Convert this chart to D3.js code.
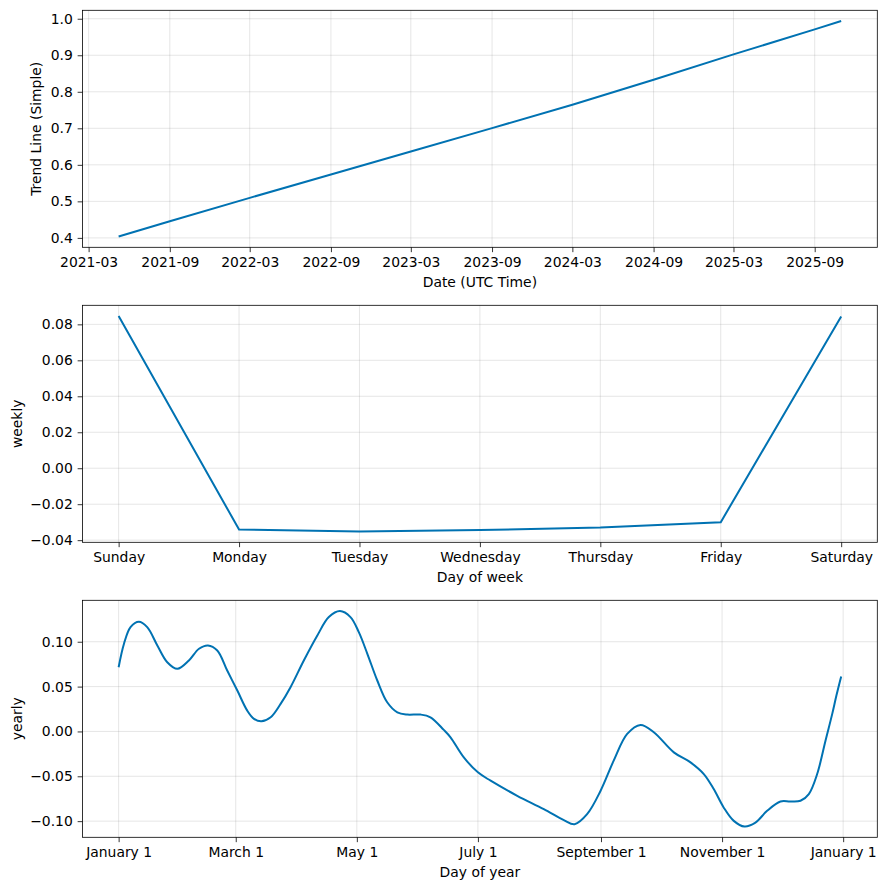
<!DOCTYPE html>
<html lang="en">

<head>
    <meta charset="UTF-8">
    <title>Forecast components</title>
    <style>
        body {
            margin: 0;
            background: #fff;
        }

        svg text {
            font-family: "DejaVu Sans", sans-serif;
            fill: #000;
        }

        .grid line {
            stroke: #808080;
            stroke-opacity: 0.2;
            stroke-width: 1;
        }

        .frame {
            fill: none;
            stroke: #000;
            stroke-width: 0.8;
        }

        .axis path {
            display: none;
        }

        .axis line {
            stroke: #000;
            stroke-width: 0.8;
        }

        .series {
            fill: none;
            stroke: #0072B2;
            stroke-width: 2;
        }
    </style>
</head>

<body>
    <svg class="chart"></svg>
    <script src="https://d3js.org/d3.v7.min.js"></script>
    <script>
        // trend component
        let trendDates = ["2021-05-08", "2021-09-01", "2022-03-01", "2022-09-01", "2023-03-01", "2023-09-01",
            "2024-03-01", "2024-09-01", "2025-03-01", "2025-09-01", "2025-10-31"];
        let trendValues = [0.4037, 0.4457, 0.5096, 0.5735, 0.6365, 0.7005, 0.7644, 0.8329, 0.9023, 0.9708, 0.9936];
        let trendTicks = ["2021-03-01", "2021-09-01", "2022-03-01", "2022-09-01", "2023-03-01", "2023-09-01",
            "2024-03-01", "2024-09-01", "2025-03-01", "2025-09-01"];
        let trendYTicks = [0.4, 0.5, 0.6, 0.7, 0.8, 0.9, 1.0];

        // weekly component
        let weekDays = ["Sunday", "Monday", "Tuesday", "Wednesday", "Thursday", "Friday", "Saturday"];
        let weeklyValues = [0.0846, -0.0341, -0.0352, -0.0344, -0.0330, -0.0300, 0.0844];
        let weeklyYTicks = [-0.04, -0.02, 0.00, 0.02, 0.04, 0.06, 0.08];

        // yearly component (day of year, 2017)
        let yearlyDays = [0, 2.7, 6, 10.2, 14.4, 19.5, 24.5, 29.6, 35.4, 40.5, 45, 49.7, 54.7, 59.8, 64.8, 68.2, 71.9,
            76.6, 81.6, 86.6, 93.3, 100.1, 105.9, 111.5, 116.8, 121, 125.3, 130.3, 135.3, 140.4, 145.4, 152.1, 157.1,
            163.8, 167.2, 173.9, 181, 187.4, 200.8, 214.2, 224.3, 229.7, 236, 242.8, 249.4, 256.2, 262.9, 269.6, 279.7,
            288.1, 294.8, 299.8, 304.8, 309.9, 315.3, 320.8, 326.7, 333.4, 338.4, 343.5, 347.7, 351.9, 356.1, 359.5,
            361.6, 364];
        let yearlyValues = [0.0716, 0.0978, 0.1163, 0.1223, 0.1163, 0.0959, 0.0772, 0.0698, 0.0791, 0.0922, 0.0959,
            0.0903, 0.0679, 0.0456, 0.0232, 0.014, 0.0113, 0.0158, 0.0307, 0.0493, 0.0791, 0.107, 0.1275, 0.1342,
            0.1275, 0.1107, 0.0866, 0.0568, 0.0325, 0.0213, 0.0188, 0.0188, 0.0158, 0.0017, -0.0065, -0.0289, -0.0456,
            -0.0549, -0.0717, -0.0866, -0.0989, -0.1034, -0.0922, -0.0661, -0.0326, -0.0028, 0.0073, -0.0009, -0.0233,
            -0.0345, -0.0475, -0.0642, -0.0847, -0.0997, -0.106, -0.1016, -0.0885, -0.0781, -0.0781, -0.0773, -0.0698,
            -0.0475, -0.0103, 0.0196, 0.0400, 0.0613];
        let yearlyTicks = ["2017-01-01", "2017-03-01", "2017-05-01", "2017-07-01", "2017-09-01", "2017-11-01", "2018-01-01"];
        let yearlyYTicks = [-0.10, -0.05, 0.00, 0.05, 0.10];

        let W = 886, H = 890;
        let left = 82.5, right = 877.3, panelH = 237;
        let tickLen = 4.86, tickPad = 4.86;
        let DAY = 864e5;

        let svg = d3.select(".chart")
            .attr("width", W)
            .attr("height", H);

        // dates handled as UTC milliseconds
        let ms = s => Date.parse(s + "T00:00:00Z");

        // matplotlib style 5% margins
        function padded(ext) {
            let p = (ext[1] - ext[0]) * 0.05;
            return [ext[0] - p, ext[1] + p];
        }

        function panel(o) {
            let g = svg.append("g").attr("transform", `translate(0,${o.top})`);
            let x = d3.scaleLinear().domain(padded(d3.extent(o.xs))).range([left, right]);
            let y = d3.scaleLinear().domain(padded(d3.extent(o.values))).range([panelH, 0]);

            // grid
            let grid = g.append("g").attr("class", "grid");
            grid.selectAll(".gx").data(o.xTicks).enter().append("line")
                .attr("x1", d => x(d)).attr("x2", d => x(d))
                .attr("y1", 0).attr("y2", panelH);
            grid.selectAll(".gy").data(o.yTicks).enter().append("line")
                .attr("x1", left).attr("x2", right)
                .attr("y1", d => y(d)).attr("y2", d => y(d));

            let line = d3.line()
                .x((d, i) => x(o.xs[i]))
                .y(d => y(d))
                .curve(o.curve || d3.curveLinear);

            g.append("path")
                .datum(o.values)
                .attr("class", "series")
                .attr("d", line);

            g.append("rect")
                .attr("class", "frame")
                .attr("x", left).attr("y", 0)
                .attr("width", right - left).attr("height", panelH);

            g.append("g")
                .attr("class", "axis")
                .attr("transform", `translate(0,${panelH})`)
                .call(d3.axisBottom(x).tickValues(o.xTicks).tickFormat(o.xFormat)
                    .tickSizeInner(tickLen).tickSizeOuter(0).tickPadding(tickPad))
                .selectAll("text").style("font-size", "13.9px");

            g.append("g")
                .attr("class", "axis")
                .attr("transform", `translate(${left},0)`)
                .call(d3.axisLeft(y).tickValues(o.yTicks).tickFormat(d3.format(o.yFormat))
                    .tickSizeInner(tickLen).tickSizeOuter(0).tickPadding(tickPad))
                .selectAll("text").style("font-size", "13.9px");

            g.append("text")
                .attr("x", (left + right) / 2)
                .attr("y", panelH + 40)
                .attr("text-anchor", "middle")
                .style("font-size", "13.9px")
                .text(o.xLabel);

            g.append("text")
                .attr("transform", `translate(${o.yLabelX},${panelH / 2}) rotate(-90)`)
                .attr("dy", "0.35em")
                .attr("text-anchor", "middle")
                .style("font-size", "13.9px")
                .text(o.yLabel);
        }

        let fmtMonth = d3.utcFormat("%Y-%m");
        panel({
            top: 10.3,
            xs: trendDates.map(ms),
            values: trendValues,
            xTicks: trendTicks.map(ms),
            xFormat: d => fmtMonth(new Date(d)),
            yTicks: trendYTicks,
            yFormat: ".1f",
            xLabel: "Date (UTC Time)",
            yLabel: "Trend Line (Simple)",
            yLabelX: 35.7
        });

        panel({
            top: 305.3,
            xs: d3.range(weekDays.length),
            values: weeklyValues,
            xTicks: d3.range(weekDays.length),
            xFormat: i => weekDays[i],
            yTicks: weeklyYTicks,
            yFormat: ".2f",
            xLabel: "Day of week",
            yLabel: "weekly",
            yLabelX: 17.3
        });

        // yearly x runs over days 0..364 of 2017
        let yStart = ms("2017-01-01");
        let fmtDay = d3.utcFormat("%B %-d");
        panel({
            top: 600.3,
            xs: yearlyDays,
            values: yearlyValues,
            xTicks: yearlyTicks.map(s => (ms(s) - yStart) / DAY),
            xFormat: d => fmtDay(new Date(yStart + d * DAY)),
            yTicks: yearlyYTicks,
            yFormat: ".2f",
            xLabel: "Day of year",
            yLabel: "yearly",
            yLabelX: 16.7,
            curve: d3.curveCatmullRom.alpha(0.5)
        });
    </script>
</body>

</html>
